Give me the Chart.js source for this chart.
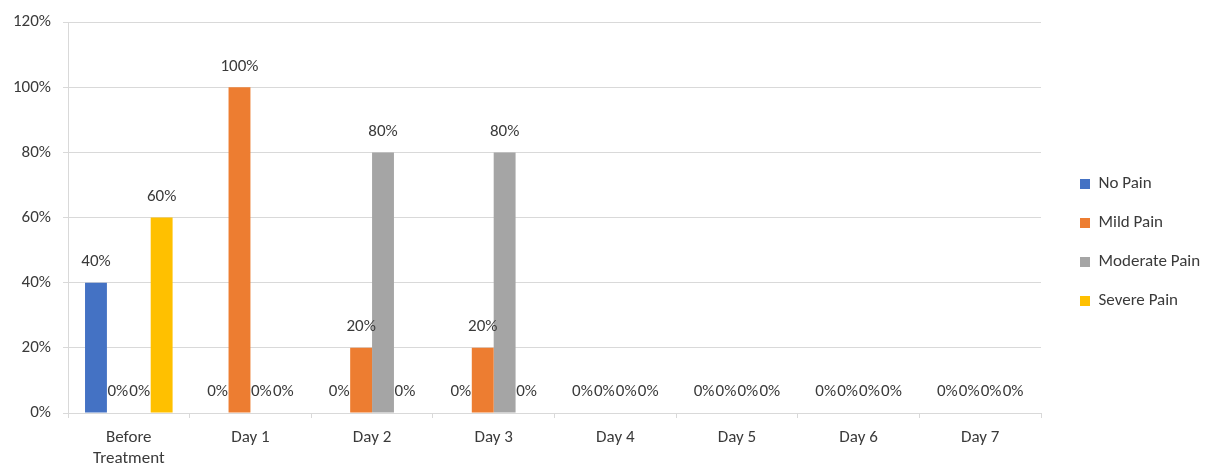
<!DOCTYPE html>
<html>
<head>
<meta charset="utf-8">
<script src="https://cdn.jsdelivr.net/npm/chart.js@4.4.1/dist/chart.umd.min.js"></script>
<style>
  html, body { margin: 0; padding: 0; background: #ffffff; }
  #wrap { width: 1209px; height: 468px; }
</style>
</head>
<body>
<div id="wrap"><canvas id="painChart"></canvas></div>
<script>
// Chart data (percent of patients)
const categories = [['Before', 'Treatment'], 'Day 1', 'Day 2', 'Day 3', 'Day 4', 'Day 5', 'Day 6', 'Day 7'];
const noPain       = [40, 0, 0, 0, 0, 0, 0, 0];
const mildPain     = [0, 100, 20, 20, 0, 0, 0, 0];
const moderatePain = [0, 0, 80, 80, 0, 0, 0, 0];
const severePain   = [60, 0, 0, 0, 0, 0, 0, 0];
const yTicks = [0, 20, 40, 60, 80, 100, 120];

const FONT = "Carlito, Calibri, Lato, 'Open Sans', sans-serif";
const FONT_SIZE = 17;
const textColor = '#3a3a3a';
const gridColor = '#d9d9d9';

// Value labels above each bar
const barLabels = {
    id: 'barLabels',
    afterDatasetsDraw(chart) {
        const ctx = chart.ctx;
        ctx.save();
        ctx.font = FONT_SIZE + 'px ' + FONT;
        ctx.fillStyle = textColor;
        ctx.textAlign = 'center';
        ctx.textBaseline = 'middle';
        chart.data.datasets.forEach((ds, i) => {
            const meta = chart.getDatasetMeta(i);
            meta.data.forEach((bar, j) => {
                ctx.fillText(ds.data[j] + '%', bar.x, bar.y - 21);
            });
        });
        ctx.restore();
    }
};

// Reserve a fixed strip for the legend and leave a gap before it
const legendPlacement = {
    id: 'legendPlacement',
    beforeInit(chart) {
        const lg = chart.legend;
        const origFit = lg.fit;
        lg.fit = function () {
            origFit.call(this);
            this.width = 168;
        };
    },
    afterLayout(chart) {
        const lg = chart.legend;
        lg.left += 17;
        lg.right += 17;
    }
};

new Chart(document.getElementById('painChart').getContext('2d'), {
    type: 'bar',
    data: {
        labels: categories,
        datasets: [
            { label: 'No Pain', data: noPain, backgroundColor: '#4472c4' },
            { label: 'Mild Pain', data: mildPain, backgroundColor: '#ed7d31' },
            { label: 'Moderate Pain', data: moderatePain, backgroundColor: '#a5a5a5' },
            { label: 'Severe Pain', data: severePain, backgroundColor: '#ffc000' }
        ]
    },
    options: {
        responsive: true,
        maintainAspectRatio: false,
        animation: false,
        layout: { padding: { top: 17, right: 0, left: 0, bottom: 0 } },
        datasets: {
            bar: { categoryPercentage: 0.72, barPercentage: 1.0 }
        },
        plugins: {
            legend: {
                position: 'right',
                labels: {
                    color: textColor,
                    font: { family: FONT, size: FONT_SIZE },
                    boxWidth: 10,
                    boxHeight: 10,
                    padding: 22
                }
            },
            tooltip: { enabled: false }
        },
        scales: {
            x: {
                afterFit: axis => { axis.height = 55; },
                ticks: {
                    color: textColor,
                    font: { family: FONT, size: FONT_SIZE, lineHeight: 1.25 },
                    padding: 9
                },
                grid: {
                    offset: true,
                    drawOnChartArea: false,
                    color: gridColor,
                    tickLength: 5
                },
                border: { color: gridColor }
            },
            y: {
                min: 0,
                max: 120,
                afterFit: axis => { axis.width = 68; },
                afterBuildTicks: axis => {
                    axis.ticks = yTicks.map(v => ({ value: v }));
                },
                ticks: {
                    color: textColor,
                    font: { family: FONT, size: FONT_SIZE },
                    padding: 12,
                    callback: value => value + '%'
                },
                grid: {
                    color: gridColor,
                    tickLength: 5
                },
                border: { color: gridColor }
            }
        }
    },
    plugins: [barLabels, legendPlacement]
});
</script>
</body>
</html>
